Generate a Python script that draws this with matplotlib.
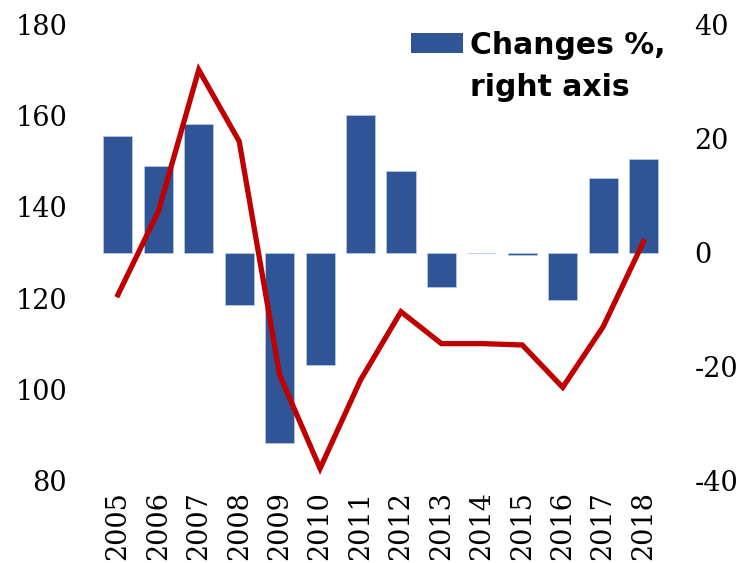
import matplotlib
matplotlib.use('Agg')
import matplotlib.pyplot as plt
import numpy as np
from matplotlib.patches import Rectangle

plt.rcParams['axes.unicode_minus'] = False

years = ['2005', '2006', '2007', '2008', '2009', '2010', '2011',
         '2012', '2013', '2014', '2015', '2016', '2017', '2018']
# index level, left axis
index_level = [120.7, 139.0, 170.1, 154.4, 103.1, 82.6, 102.0,
               117.0, 110.0, 110.0, 109.7, 100.4, 113.7, 132.4]
# yearly change in %, right axis
changes = [20.4, 15.2, 22.5, -9.2, -33.5, -19.8, 24.1,
           14.4, -6.0, -0.1, -0.5, -8.3, 13.1, 16.4]
legend_lines = ['Changes %,', 'right axis']

bar_color = '#2F5597'
line_color = '#C00000'
tick_font = 'DejaVu Serif'

fig = plt.figure(figsize=(7.4, 5.63), dpi=100)
ax = fig.add_axes([0.132, 0.147, 0.765, 0.809])
ax2 = ax.twinx()

x = np.arange(len(years))
ax2.bar(x, changes, width=0.72, color=bar_color, edgecolor='#B4C7E7', linewidth=0.6)
ax.plot(x, index_level, color=line_color, linewidth=3.8, solid_joinstyle='miter')

# line above the bars
ax.set_zorder(ax2.get_zorder() + 1)
ax.patch.set_visible(False)

ax.set_xlim(-0.5, len(years) - 0.5)
ax.set_ylim(80, 180)
ax.set_yticks([80, 100, 120, 140, 160, 180])
ax2.set_ylim(-40, 40)
ax2.set_yticks([-40, -20, 0, 20, 40])

ax.set_xticks(x)
ax.set_xticklabels(years, rotation=90, fontsize=19.5, family=tick_font)
for lab in ax.get_yticklabels() + ax2.get_yticklabels():
    lab.set_fontsize(19.5)
    lab.set_family(tick_font)

for a in (ax, ax2):
    for s in a.spines.values():
        s.set_visible(False)
    a.tick_params(length=0)
ax.tick_params(axis='y', pad=22)
ax.tick_params(axis='x', pad=8)
ax2.tick_params(axis='y', pad=22)

# legend drawn by hand so the swatch sits next to the first line
fig.add_artist(Rectangle((0.5554, 0.9059), 0.0703, 0.0355,
                         transform=fig.transFigure, facecolor=bar_color,
                         edgecolor='none'))
fig.text(0.635, 1 - 45 / 563, legend_lines[0], va='center', ha='left',
         family='DejaVu Sans', weight='heavy', size=21.5)
fig.text(0.635, 1 - 87 / 563, legend_lines[1], va='center', ha='left',
         family='DejaVu Sans', weight='heavy', size=21.5)

fig.savefig('out.png', dpi=100)
